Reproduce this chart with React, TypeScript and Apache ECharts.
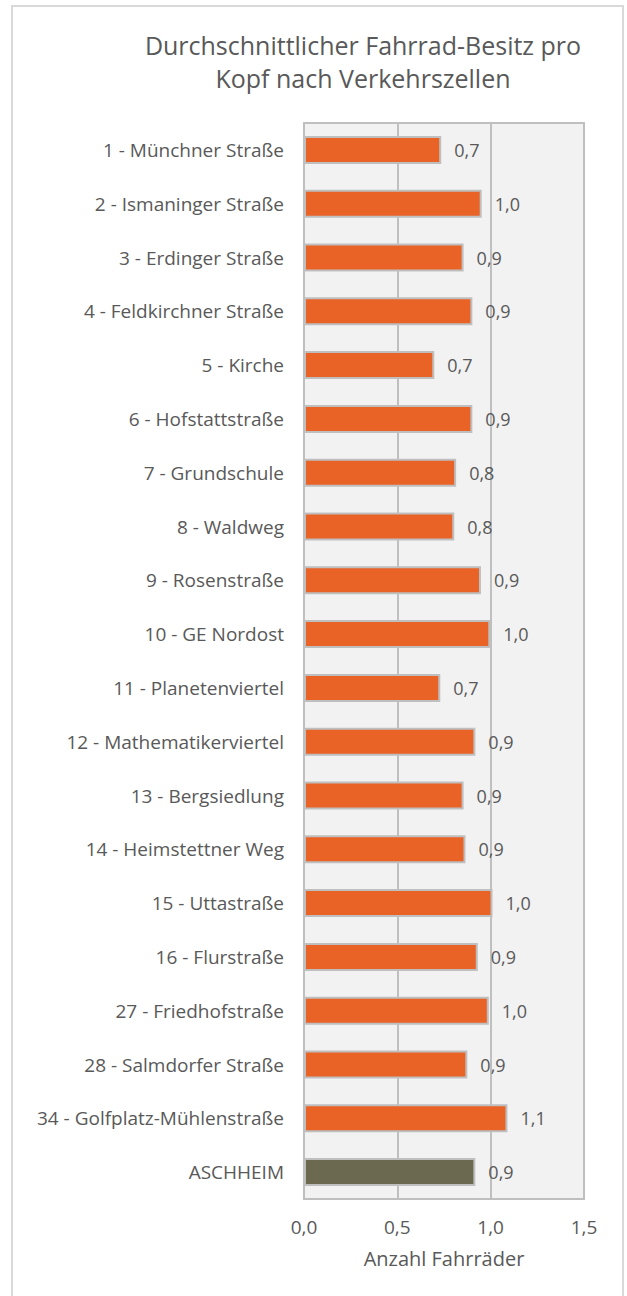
import React, { useEffect, useRef } from "react";
import * as echarts from "echarts";

const titleLines = ["Durchschnittlicher Fahrrad-Besitz pro", "Kopf nach Verkehrszellen"];
const categories = [
  "1 - Münchner Straße",
  "2 - Ismaninger Straße",
  "3 - Erdinger Straße",
  "4 - Feldkirchner Straße",
  "5 - Kirche",
  "6 - Hofstattstraße",
  "7 - Grundschule",
  "8 - Waldweg",
  "9 - Rosenstraße",
  "10 - GE Nordost",
  "11 - Planetenviertel",
  "12 - Mathematikerviertel",
  "13 - Bergsiedlung",
  "14 - Heimstettner Weg",
  "15 - Uttastraße",
  "16 - Flurstraße",
  "27 - Friedhofstraße",
  "28 - Salmdorfer Straße",
  "34 - Golfplatz-Mühlenstraße",
  "ASCHHEIM",
];
const values = [
  0.735, 0.952, 0.855, 0.902, 0.698, 0.902, 0.815, 0.805, 0.948, 0.998,
  0.73, 0.918, 0.855, 0.865, 1.01, 0.931, 0.99, 0.875, 1.09, 0.918,
];
const xTicks = [0, 0.5, 1.0, 1.5];
const xAxisName = "Anzahl Fahrräder";

const ORANGE = "#E96327";
const OLIVE = "#6C6951";
const TEXT = "#595959";
const FONT = "Open Sans";

export default function App() {
  const ref = useRef<HTMLDivElement>(null);
  useEffect(() => {
    document.body.style.margin = "0";
    const chart = echarts.init(ref.current!, null, { renderer: "svg" });
    chart.setOption({
      animation: false,
      backgroundColor: "#ffffff",
      textStyle: { fontFamily: FONT },
      title: {
        text: titleLines.join("\n"),
        left: 358,
        top: 23,
        textAlign: "center",
        textStyle: {
          fontFamily: FONT,
          fontSize: 25,
          fontWeight: "normal",
          color: TEXT,
          lineHeight: 33,
        },
      },
      graphic: [
        {
          type: "rect",
          shape: { x: 12, y: 6, width: 611, height: 1300 },
          style: { fill: "none", stroke: "#D9D9D9", lineWidth: 2 },
          silent: true,
          z: -1,
        },
      ],
      grid: {
        left: 304,
        right: 43,
        top: 123,
        bottom: 97,
        show: true,
        backgroundColor: "#F2F2F2",
        borderColor: "#BFBFBF",
        borderWidth: 2,
      },
      xAxis: {
        type: "value",
        min: xTicks[0],
        max: xTicks[xTicks.length - 1],
        interval: 0.5,
        name: xAxisName,
        nameLocation: "middle",
        nameGap: 49,
        nameTextStyle: { fontFamily: FONT, fontSize: 20, color: TEXT },
        axisLine: { show: false },
        axisTick: { show: false },
        splitLine: { show: true, lineStyle: { color: "#BFBFBF", width: 2 } },
        axisLabel: {
          fontFamily: FONT,
          fontSize: 19,
          color: TEXT,
          margin: 18,
          formatter: (v: number) => v.toFixed(1).replace(".", ","),
        },
      },
      yAxis: {
        type: "category",
        data: categories,
        inverse: true,
        axisLine: { show: false },
        axisTick: { show: false },
        axisLabel: { fontFamily: FONT, fontSize: 19, color: TEXT, margin: 20 },
      },
      series: [
        {
          type: "bar",
          barWidth: 28,
          data: values.map((v, i) => ({
            value: v,
            itemStyle: {
              color: i === values.length - 1 ? OLIVE : ORANGE,
              borderColor: "#BFBFBF",
              borderWidth: 2,
            },
          })),
          label: {
            show: true,
            position: "right",
            distance: 13,
            fontFamily: FONT,
            fontSize: 18,
            color: TEXT,
            formatter: (p: any) => p.value.toFixed(1).replace(".", ","),
          },
        },
      ],
    });
    return () => chart.dispose();
  }, []);
  return <div ref={ref} style={{ width: 627, height: 1296 }} />;
}
